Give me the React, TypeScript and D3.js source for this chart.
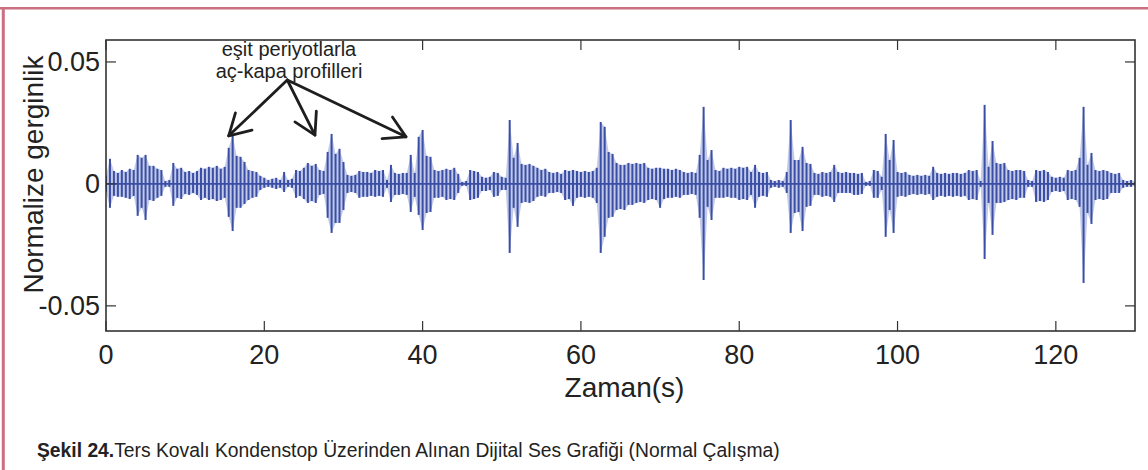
import React from "react";
import * as d3 from "d3";

// ---- data ----
const X_TICKS = [0, 20, 40, 60, 80, 100, 120];
const Y_TICKS = [-0.05, 0, 0.05];
const X_DOMAIN = [0, 130];
const Y_DOMAIN = [-0.0603, 0.059];
const BIN_STEP = 0.5; // seconds per envelope bin
const UNIT = 1e-3; // envelope values are given in units of 1e-3

// upper envelope (max per 0.5 s bin), ×1e-3, t = 0 … 130 s
const UPPER = [
  // 0 – 9.5 s
  3.3, 10.3, 5.3, 4.5, 5.7, 4.9, 6.2, 5.7, 11.9, 10.7, 11.9, 7.4, 7.4, 6.2, 5.7, 1.2, 1.6, 8.6, 6.2, 6.6,
  // 10 – 19.5 s
  4.9, 5.3, 4.5, 5.3, 6.6, 6.2, 7.0, 6.6, 7.4, 6.2, 7.0, 14.8, 20.1, 11.5, 11.1, 9.0, 5.7, 5.3, 4.9, 3.3,
  // 20 – 29.5 s
  2.5, 1.6, 2.1, 2.5, 1.6, 4.9, 1.6, 2.1, 5.7, 5.3, 6.6, 8.6, 7.4, 8.2, 5.7, 5.3, 13.1, 20.5, 12.3, 14.4,
  // 30 – 39.5 s
  9.0, 3.7, 3.3, 3.7, 5.3, 4.9, 4.9, 4.5, 5.7, 5.3, 5.7, 1.6, 7.8, 4.5, 4.1, 4.5, 4.5, 11.9, 4.5, 19.3,
  // 40 – 49.5 s
  22.1, 11.5, 11.1, 5.7, 5.3, 5.7, 6.2, 5.7, 6.6, 4.1, 0.8, 1.2, 5.7, 5.3, 4.9, 2.9, 2.5, 2.9, 4.9, 4.5,
  // 50 – 59.5 s
  2.9, 2.5, 26.2, 10.7, 16.8, 8.2, 7.8, 8.2, 7.4, 6.6, 5.7, 6.2, 4.9, 4.5, 4.9, 4.1, 5.7, 5.3, 5.7, 5.3,
  // 60 – 69.5 s
  4.9, 5.3, 4.9, 5.3, 6.6, 25.4, 23.4, 13.1, 12.3, 8.6, 7.8, 7.8, 8.6, 8.2, 8.6, 8.2, 8.6, 6.6, 6.2, 6.6,
  // 70 – 79.5 s
  6.6, 6.2, 6.2, 5.7, 6.2, 5.7, 4.9, 4.5, 4.9, 4.5, 11.9, 31.6, 9.8, 13.9, 5.7, 5.3, 6.6, 6.2, 6.6, 6.2,
  // 80 – 89.5 s
  7.0, 6.6, 7.0, 4.9, 7.8, 4.9, 4.5, 4.9, 1.6, 1.2, 1.6, 1.2, 4.9, 26.2, 9.8, 9.8, 15.2, 8.6, 8.2, 4.5,
  // 90 – 99.5 s
  4.1, 4.9, 4.5, 4.9, 7.8, 4.9, 4.5, 4.9, 4.5, 4.5, 4.1, 4.5, 0.8, 1.2, 5.7, 5.3, 2.9, 20.5, 9.8, 18.0,
  // 100 – 109.5 s
  4.9, 4.5, 4.9, 3.7, 3.3, 3.7, 3.3, 3.7, 3.3, 7.0, 4.5, 4.1, 4.5, 4.1, 4.5, 4.5, 4.1, 4.5, 5.7, 5.3,
  // 110 – 119.5 s
  5.7, 1.2, 32.4, 7.0, 17.6, 8.6, 8.2, 8.6, 5.7, 5.3, 5.7, 5.7, 5.3, 1.6, 1.2, 5.7, 5.3, 5.7, 4.9, 2.9,
  // 120 – 130 s
  2.5, 2.9, 2.5, 5.7, 5.3, 5.7, 10.7, 31.6, 7.8, 12.7, 5.7, 5.3, 5.7, 5.3, 4.5, 4.1, 4.5, 1.6, 1.2, 1.6, 0.8,
];

// lower envelope magnitude (|min| per 0.5 s bin), ×1e-3
const LOWER = [
  3.3, 9.8, 4.9, 5.3, 5.3, 5.7, 6.2, 4.9, 13.1, 9.8, 14.8, 6.6, 7.0, 5.7, 4.9, 1.2, 1.2, 9.0, 5.7, 6.2,
  4.1, 4.5, 3.7, 4.5, 6.6, 5.7, 6.6, 6.2, 7.0, 6.6, 5.7, 13.5, 19.3, 9.8, 9.8, 8.2, 6.6, 5.7, 5.3, 2.5,
  1.6, 1.2, 1.6, 2.1, 1.6, 3.3, 1.2, 1.6, 5.7, 4.9, 6.2, 7.8, 7.0, 7.8, 4.5, 4.1, 13.9, 20.1, 16.0, 16.0,
  10.7, 3.7, 3.3, 3.7, 5.7, 5.3, 5.3, 4.9, 5.3, 4.9, 5.3, 1.6, 7.4, 4.5, 4.5, 4.1, 4.5, 11.5, 5.3, 12.7,
  18.9, 11.9, 11.5, 5.7, 5.7, 5.3, 6.6, 6.2, 6.6, 3.7, 0.8, 0.8, 6.6, 6.2, 5.7, 2.9, 2.9, 2.5, 5.3, 4.9,
  2.5, 2.5, 28.3, 9.8, 17.6, 7.8, 7.4, 7.8, 7.0, 5.3, 4.9, 5.3, 3.7, 3.7, 3.3, 3.7, 6.6, 6.2, 9.0, 5.7,
  5.3, 5.7, 5.3, 5.7, 7.8, 28.3, 21.7, 13.9, 13.5, 10.7, 10.3, 10.7, 8.6, 8.6, 7.8, 7.4, 7.8, 6.6, 6.2, 6.6,
  9.8, 6.2, 5.7, 5.7, 5.3, 5.7, 4.5, 4.5, 4.1, 4.5, 13.9, 39.4, 9.4, 14.8, 5.7, 5.7, 5.7, 5.3, 5.7, 5.7,
  6.6, 6.2, 6.6, 4.5, 9.8, 5.3, 4.9, 5.3, 1.6, 1.2, 1.6, 1.2, 3.7, 20.1, 11.9, 11.5, 19.3, 9.4, 9.0, 4.5,
  4.5, 5.3, 4.9, 5.3, 7.4, 3.7, 3.7, 3.7, 3.7, 4.5, 4.5, 4.1, 0.8, 0.8, 5.7, 5.7, 2.5, 21.7, 10.7, 20.1,
  5.3, 4.9, 5.3, 4.5, 4.1, 4.5, 4.1, 4.5, 4.1, 6.6, 5.3, 4.9, 5.3, 4.9, 5.3, 4.9, 5.3, 4.9, 6.6, 6.2,
  6.6, 1.2, 30.8, 7.8, 20.9, 7.8, 7.8, 7.4, 6.6, 6.2, 6.6, 5.7, 5.7, 1.2, 1.2, 7.4, 7.0, 7.4, 6.6, 3.3,
  2.9, 3.3, 2.9, 6.6, 6.2, 6.6, 9.4, 40.6, 11.9, 16.4, 6.6, 6.2, 6.6, 6.2, 3.7, 3.7, 3.7, 1.6, 1.2, 1.2, 0.8,
];

const Y_LABEL = "Normalize gerginlik";
const X_LABEL = "Zaman(s)";
const NOTE_LINES = ["eşit periyotlarla", "aç-kapa profilleri"];
// annotation arrows: common origin and the three target peaks, in data units [s, value]
const NOTE_ORIGIN: [number, number] = [22.9, 0.0426];
const NOTE_TARGETS: [number, number][] = [
  [15.5, 0.0197],
  [26.4, 0.02],
  [37.9, 0.0193],
];
const CAPTION_BOLD = "Şekil 24.";
const CAPTION_TEXT = "Ters Kovalı Kondenstop Üzerinden Alınan Dijital Ses Grafiği (Normal Çalışma)";

// ---- layout ----
const W = 1148;
const H = 470;
const PLOT = { left: 106, right: 1135, top: 40, bottom: 331 };
const SIGNAL = "#3a4ea6";
const AXIS = "#333333";
const BORDER = "#cc6f81";
const FONT = "'Liberation Sans', Arial, Helvetica, sans-serif";
const FONT_NARROW = "'Liberation Sans Narrow', 'Arial Narrow', 'Liberation Sans', sans-serif";

export default function App() {
  const x = d3.scaleLinear().domain(X_DOMAIN).range([PLOT.left, PLOT.right]);
  const y = d3.scaleLinear().domain(Y_DOMAIN).range([PLOT.bottom, PLOT.top]);

  const bins = UPPER.map((u, i) => ({
    t: i * BIN_STEP,
    hi: u * UNIT,
    lo: -LOWER[i] * UNIT,
  }));

  const area = d3
    .area<{ t: number; hi: number; lo: number }>()
    .x((d) => x(d.t))
    .y0((d) => y(d.lo))
    .y1((d) => y(d.hi))
    .curve(d3.curveLinear);

  const tickLen = 10;

  // arrow geometry
  const [ox, oy] = [x(NOTE_ORIGIN[0]), y(NOTE_ORIGIN[1])];
  const arrows = NOTE_TARGETS.map(([tt, vv]) => {
    const tx = x(tt);
    const ty = y(vv);
    const dx = ox - tx;
    const dy = oy - ty;
    const len = Math.hypot(dx, dy);
    const ux = dx / len;
    const uy = dy / len;
    const a = Math.PI / 6;
    const wl = 24;
    const w1 = [tx + wl * (ux * Math.cos(a) - uy * Math.sin(a)), ty + wl * (ux * Math.sin(a) + uy * Math.cos(a))];
    const w2 = [tx + wl * (ux * Math.cos(-a) - uy * Math.sin(-a)), ty + wl * (ux * Math.sin(-a) + uy * Math.cos(-a))];
    return { tx, ty, w1, w2 };
  });

  const fmtY = (v: number) => (v === 0 ? "0" : d3.format(".2f")(v).replace("\u2212", "-"));

  return (
    <svg
      width={W}
      height={H}
      style={{ position: "absolute", left: 0, top: 0, background: "#fff" }}
    >
      {/* page frame */}
      <line x1={0} x2={W} y1={8.3} y2={8.3} stroke={BORDER} strokeWidth={2.4} />
      <line x1={3.3} x2={3.3} y1={7.2} y2={H} stroke={BORDER} strokeWidth={3} />

      {/* signal */}
      <clipPath id="plotclip">
        <rect x={PLOT.left} y={PLOT.top} width={PLOT.right - PLOT.left} height={PLOT.bottom - PLOT.top} />
      </clipPath>
      <g clipPath="url(#plotclip)">
        <path d={area(bins) || ""} fill="#9aa6d8" fillOpacity={0.6} stroke="none" />
        {bins.map((d, i) => (
          <line
            key={i}
            x1={x(d.t)}
            x2={x(d.t)}
            y1={y(d.hi)}
            y2={y(d.lo)}
            stroke={SIGNAL}
            strokeWidth={2}
          />
        ))}
        <line x1={x(X_DOMAIN[0])} x2={x(X_DOMAIN[1])} y1={y(0)} y2={y(0)} stroke={SIGNAL} strokeWidth={1.6} />
      </g>

      {/* axes box */}
      <rect
        x={PLOT.left}
        y={PLOT.top}
        width={PLOT.right - PLOT.left}
        height={PLOT.bottom - PLOT.top}
        fill="none"
        stroke={AXIS}
        strokeWidth={1.6}
      />
      {X_TICKS.map((t) => (
        <g key={"xt" + t}>
          <line x1={x(t)} x2={x(t)} y1={PLOT.bottom} y2={PLOT.bottom - tickLen} stroke={AXIS} strokeWidth={1.2} />
          <line x1={x(t)} x2={x(t)} y1={PLOT.top} y2={PLOT.top + tickLen} stroke={AXIS} strokeWidth={1.2} />
          <text
            x={x(t)}
            y={364}
            textAnchor="middle"
            fontFamily={FONT}
            fontSize={27}
            fill="#222"
          >
            {t}
          </text>
        </g>
      ))}
      {Y_TICKS.map((v) => (
        <g key={"yt" + v}>
          <line x1={PLOT.left} x2={PLOT.left + tickLen} y1={y(v)} y2={y(v)} stroke={AXIS} strokeWidth={1.2} />
          <line x1={PLOT.right} x2={PLOT.right - tickLen} y1={y(v)} y2={y(v)} stroke={AXIS} strokeWidth={1.2} />
          <text
            x={PLOT.left - 6}
            y={y(v) + 9.5}
            textAnchor="end"
            fontFamily={FONT}
            fontSize={27}
            fill="#222"
          >
            {fmtY(v)}
          </text>
        </g>
      ))}

      {/* axis titles */}
      <text
        x={(PLOT.left + PLOT.right) / 2 + 4}
        y={397}
        textAnchor="middle"
        fontFamily={FONT}
        fontSize={28}
        fill="#222"
      >
        {X_LABEL}
      </text>
      <text
        transform={`translate(43, ${(PLOT.top + PLOT.bottom) / 2 - 11}) rotate(-90)`}
        textAnchor="middle"
        fontFamily={FONT}
        fontSize={28}
        fill="#222"
      >
        {Y_LABEL}
      </text>

      {/* annotation */}
      <rect x={200} y={41} width={221.5} height={8.5} fill="#fff" />
      {NOTE_LINES.map((s, i) => (
        <text
          key={s}
          x={289}
          y={56 + i * 22}
          textAnchor="middle"
          fontFamily={FONT}
          fontSize={20}
          fill="#222"
        >
          {s}
        </text>
      ))}
      <g stroke="#1e1e1e" strokeWidth={2.8} fill="none" strokeLinecap="round" strokeLinejoin="round">
        {arrows.map((a, i) => (
          <g key={i}>
            <line x1={ox} y1={oy} x2={a.tx} y2={a.ty} />
            <polyline points={`${a.w1[0]},${a.w1[1]} ${a.tx},${a.ty} ${a.w2[0]},${a.w2[1]}`} />
          </g>
        ))}
      </g>

      {/* caption */}
      <text x={37} y={457} fontFamily={FONT_NARROW} fontSize={19.3} fill="#222">
        <tspan fontWeight="bold">{CAPTION_BOLD}</tspan>
        <tspan>{CAPTION_TEXT}</tspan>
      </text>
    </svg>
  );
}
